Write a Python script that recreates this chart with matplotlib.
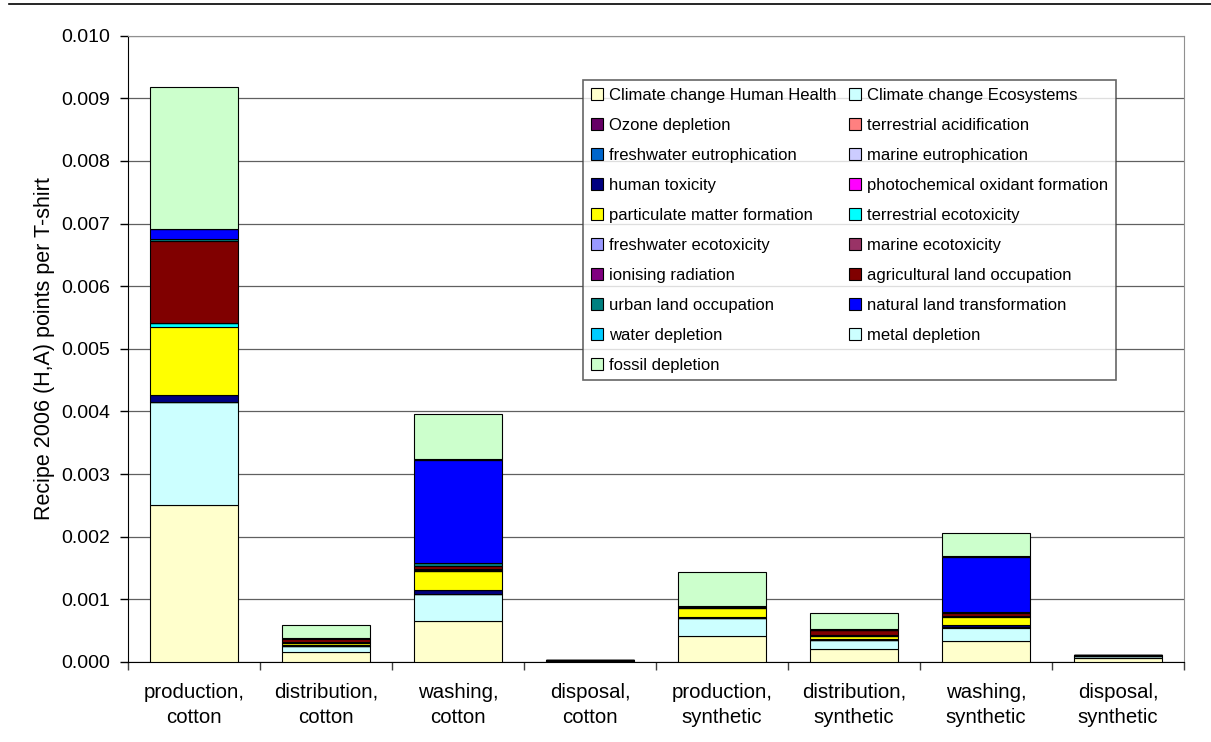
import numpy as np
import matplotlib.pyplot as plt
from matplotlib.lines import Line2D

plt.rcParams['font.family'] = ['Liberation Sans', 'DejaVu Sans']

stages = ["production,\ncotton", "distribution,\ncotton", "washing,\ncotton", "disposal,\ncotton",
          "production,\nsynthetic", "distribution,\nsynthetic", "washing,\nsynthetic", "disposal,\nsynthetic"]

impacts = ["Climate change Human Health", "Climate change Ecosystems", "Ozone depletion",
           "terrestrial acidification", "freshwater eutrophication", "marine eutrophication",
           "human toxicity", "photochemical oxidant formation", "particulate matter formation",
           "terrestrial ecotoxicity", "freshwater ecotoxicity", "marine ecotoxicity",
           "ionising radiation", "agricultural land occupation", "urban land occupation",
           "natural land transformation", "water depletion", "metal depletion", "fossil depletion"]

colors = ["#FFFFCC", "#CCFFFF", "#660066", "#FF8080", "#0066CC", "#CCCCFF",
          "#000080", "#FF00FF", "#FFFF00", "#00FFFF", "#9999FF", "#993366",
          "#800080", "#800000", "#008080", "#0000FF", "#00CCFF", "#CCFFFF", "#CCFFCC"]

# points per T-shirt, one list per impact category (same order as stages)
cc_hh        = [0.00250, 0.000155, 0.00065, 0.000012, 0.00041, 0.00021, 0.00033, 0.00007]
cc_eco       = [0.00165, 0.00010, 0.00043, 0.000008, 0.00029, 0.00014, 0.00022, 0.00003]
ozone        = [0.000002, 0.0, 0.000001, 0.0, 0.000001, 0.000001, 0.000001, 0.0]
terr_acid    = [0.000004, 0.000001, 0.000002, 0.0, 0.000001, 0.000001, 0.000001, 0.0]
fw_eutro     = [0.000002, 0.0, 0.000003, 0.0, 0.000001, 0.0, 0.000001, 0.0]
mar_eutro    = [0.000001, 0.0, 0.0, 0.0, 0.0, 0.0, 0.0, 0.0]
human_tox    = [0.00011, 0.00001, 0.00007, 0.000002, 0.00002, 0.00002, 0.00003, 0.000002]
photochem    = [0.000001, 0.0, 0.0, 0.0, 0.0, 0.0, 0.0, 0.0]
pm_form      = [0.00108, 0.00004, 0.00029, 0.000003, 0.00014, 0.00004, 0.00014, 0.000003]
terr_ecotox  = [0.00006, 0.000002, 0.000005, 0.0, 0.000003, 0.000002, 0.000003, 0.0]
fw_ecotox    = [0.000003, 0.000001, 0.000002, 0.0, 0.000001, 0.000001, 0.000001, 0.0]
mar_ecotox   = [0.000004, 0.000003, 0.00002, 0.0, 0.00001, 0.00001, 0.00001, 0.0]
ionising     = [0.000003, 0.000001, 0.00001, 0.0, 0.000005, 0.000003, 0.000005, 0.0]
agri_land    = [0.00131, 0.00006, 0.00005, 0.000001, 0.000005, 0.00008, 0.00004, 0.0]
urban_land   = [0.00003, 0.000003, 0.00004, 0.0, 0.000005, 0.000005, 0.00002, 0.0]
nat_land     = [0.00015, 0.000005, 0.00166, 0.0, 0.000005, 0.000005, 0.00088, 0.0]
water_depl   = [0.0, 0.0, 0.0, 0.0, 0.0, 0.0, 0.0, 0.0]
metal_depl   = [0.000005, 0.000002, 0.00001, 0.0, 0.000005, 0.000002, 0.000005, 0.0]
fossil_depl  = [0.00226, 0.00021, 0.00072, 0.000004, 0.00054, 0.00026, 0.00038, 0.00001]

series = [cc_hh, cc_eco, ozone, terr_acid, fw_eutro, mar_eutro, human_tox, photochem,
          pm_form, terr_ecotox, fw_ecotox, mar_ecotox, ionising, agri_land, urban_land,
          nat_land, water_depl, metal_depl, fossil_depl]

fig = plt.figure(figsize=(12.11, 7.42), dpi=100)
ax = fig.add_axes([128 / 1211, 1 - 662 / 742, (1184 - 128) / 1211, (662 - 35.7) / 742])

x = np.arange(len(stages))
bottom = np.zeros(len(stages))
handles = []
for name, vals, col in zip(impacts, series, colors):
    vals = np.array(vals)
    b = ax.bar(x, vals, width=0.667, bottom=bottom, color=col, edgecolor='black',
               linewidth=0.8, label=name, zorder=3)
    handles.append(b)
    bottom += vals

ax.set_xlim(-0.5, len(stages) - 0.5)
ax.set_ylim(0, 0.010)
ax.set_yticks(np.arange(0, 0.0101, 0.001))
ax.set_yticklabels([f"{v:.3f}" for v in np.arange(0, 0.0101, 0.001)])
ax.set_xticks(x)
ax.set_xticklabels(stages, fontsize=14.7, linespacing=1.4)
ax.set_xticks(np.arange(-0.5, len(stages), 1.0), minor=True)
ax.tick_params(axis='x', which='major', length=0, pad=15)
ax.tick_params(axis='x', which='minor', length=6, width=1, color='#404040')
ax.tick_params(axis='y', labelsize=14, length=6, width=1, pad=7)
ax.grid(axis='y', color='#606060', linewidth=0.9, zorder=0)
ax.set_axisbelow(True)

for side in ['top', 'right']:
    ax.spines[side].set_color('#909090')
ax.spines['left'].set_color('black')
ax.spines['bottom'].set_color('black')

ax.set_ylabel("Recipe 2006 (H,A) points per T-shirt", fontsize=15.5, labelpad=4)

# Excel fills the legend row by row, matplotlib column by column
order = list(range(0, 19, 2)) + list(range(1, 19, 2))
leg = ax.legend([handles[i] for i in order], [impacts[i] for i in order], ncol=2,
                loc='upper left', bbox_to_anchor=((583 - 128) / 1056, 1 - (80 - 35.7) / 626.3),
                fontsize=12, frameon=True, fancybox=False, edgecolor='#404040',
                handlelength=0.75, handleheight=0.75, handletextpad=0.35,
                labelspacing=0.9, columnspacing=0.75, borderpad=0.45, borderaxespad=0)
leg.get_frame().set_linewidth(1.2)
leg.set_zorder(5)

fig.add_artist(Line2D([9 / 1211, 1], [1 - 4 / 742, 1 - 4 / 742], color='black', linewidth=1.2))

fig.savefig("out.png", dpi=100)
